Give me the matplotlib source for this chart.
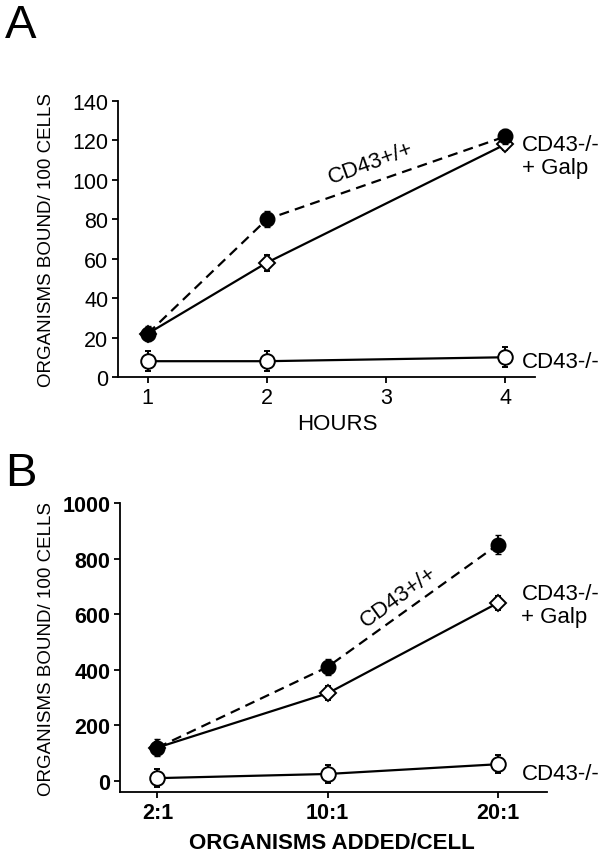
import numpy as np
import matplotlib
matplotlib.use('Agg')
import matplotlib.pyplot as plt

plt.rcParams['font.family'] = ['Liberation Sans', 'DejaVu Sans']

# Panel A: organisms bound vs hours
hours = [1, 2, 4]
a_wt = [22, 80, 122]
a_wt_err = [4, 4, 4]
a_galp = [22, 58, 118]
a_galp_err = [3, 4, 3]
a_ko = [8, 8, 10]
a_ko_err = [5, 5, 5]

# Panel B: organisms bound vs ratio added
ratios = ['2:1', '10:1', '20:1']
b_wt = [120, 410, 850]
b_wt_err = [30, 30, 35]
b_galp = [120, 315, 640]
b_galp_err = [20, 25, 25]
b_ko = [10, 25, 60]
b_ko_err = [32, 32, 32]

fig = plt.figure(figsize=(6.06, 8.53), dpi=100)
axA = fig.add_axes([0.1947, 0.5569, 0.6881, 0.3235])
axB = fig.add_axes([0.198, 0.0703, 0.7046, 0.3388])

ms = 10.5
lw = 1.6


def draw(ax, x, wt, wte, galp, gpe, ko, koe):
    ax.errorbar(x, ko, yerr=koe, color='black', lw=lw, marker='o', ms=ms,
                mfc='white', mec='black', mew=1.4, capsize=2.5, elinewidth=1.4, zorder=3)
    ax.errorbar(x, galp, yerr=gpe, color='black', lw=lw, marker='D', ms=ms - 2,
                mfc='white', mec='black', mew=1.4, capsize=2.5, elinewidth=1.4, zorder=3)
    ax.errorbar(x, wt, yerr=wte, color='black', lw=lw, ls='--', marker='o', ms=ms,
                mfc='black', mec='black', capsize=2.5, elinewidth=1.4, zorder=4,
                dashes=(4.5, 2.8))
    for s in ['top', 'right']:
        ax.spines[s].set_visible(False)
    for s in ['left', 'bottom']:
        ax.spines[s].set_linewidth(1.3)
    ax.tick_params(direction='out', length=4, width=1.3, labelsize=15.5, pad=3)


draw(axA, hours, a_wt, a_wt_err, a_galp, a_galp_err, a_ko, a_ko_err)
axA.set_xlim(0.75, 4.25)
axA.set_ylim(0, 140)
axA.set_xticks([1, 2, 3, 4])
axA.set_yticks(np.arange(0, 141, 20))
axA.set_ylabel('ORGANISMS BOUND/ 100 CELLS', fontsize=13.5)
axA.yaxis.set_label_coords(-0.151, 0.5)
axA.set_xlabel('HOURS', fontsize=16)
axA.xaxis.set_label_coords(0.525, -0.13)
axA.text(2.87, 109, 'CD43+/+', fontsize=16, rotation=20, ha='center', va='center')
axA.text(4.14, 112, 'CD43-/-\n+ Galp', fontsize=16, ha='left', va='center',
         linespacing=1.1, clip_on=False)
axA.text(4.14, 8, 'CD43-/-', fontsize=16, ha='left', va='center', clip_on=False)

xb = np.arange(len(ratios))
draw(axB, xb, b_wt, b_wt_err, b_galp, b_galp_err, b_ko, b_ko_err)
axB.set_xlim(-0.22, 2.29)
axB.set_ylim(-40, 1000)
axB.set_xticks(xb)
axB.set_xticklabels(ratios, fontweight='bold')
axB.set_yticks(np.arange(0, 1001, 200))
for t in axB.get_yticklabels():
    t.set_fontweight('bold')
axB.tick_params(labelsize=15.5)
axB.set_ylabel('ORGANISMS BOUND/ 100 CELLS', fontsize=13.5)
axB.yaxis.set_label_coords(-0.152, 0.5)
axB.set_xlabel('ORGANISMS ADDED/CELL', fontsize=16, fontweight='bold')
axB.xaxis.set_label_coords(0.496, -0.138)
axB.text(1.42, 665, 'CD43+/+', fontsize=16, rotation=36, ha='center', va='center')
axB.text(2.14, 633, 'CD43-/-\n+ Galp', fontsize=16, ha='left', va='center',
         linespacing=1.1, clip_on=False)
axB.text(2.14, 25, 'CD43-/-', fontsize=16, ha='left', va='center', clip_on=False)

fig.text(0.008, 0.995, 'A', fontsize=34, ha='left', va='top')
fig.text(0.008, 0.47, 'B', fontsize=34, ha='left', va='top')

fig.savefig('out.png', dpi=100)
